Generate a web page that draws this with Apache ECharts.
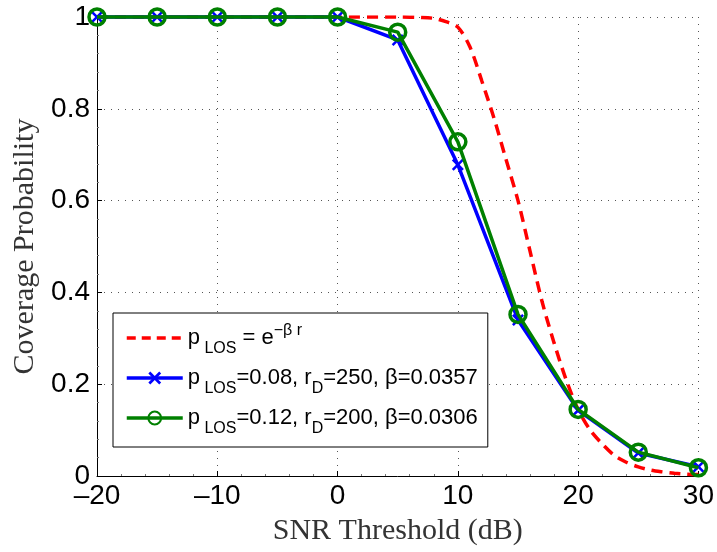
<!DOCTYPE html>
<html>
<head>
<meta charset="utf-8">
<script src="https://cdn.jsdelivr.net/npm/echarts@6/dist/echarts.min.js"></script>
<style>html,body{margin:0;padding:0;background:#fff}#c{width:717px;height:552px}</style>
</head>
<body>
<div id="c"></div>
<script>
// Data
var snr = [-20, -15, -10, -5, 0, 5, 10, 15, 20, 25, 30];
var blueVals = [1, 1, 1, 1, 1, 0.950, 0.678, 0.340, 0.143, 0.050, 0.020];
var greenVals = [1, 1, 1, 1, 1, 0.967, 0.728, 0.352, 0.145, 0.052, 0.018];
var redX = [-20, -10, 0, 5, 7, 8, 9, 10, 11, 12, 13, 14, 15, 16, 17, 18, 19, 20, 21, 22, 23, 24, 25, 26, 27, 28, 29, 30];
var redY = [1, 1, 1, 1, 0.999, 0.997, 0.99, 0.978, 0.935, 0.86, 0.78, 0.69, 0.60, 0.49, 0.38, 0.29, 0.21, 0.145, 0.10, 0.07, 0.045, 0.03, 0.02, 0.013, 0.009, 0.006, 0.004, 0.003];
var xTicks = { min: -20, max: 30, interval: 10 };
var yTicks = { min: 0, max: 1, interval: 0.2 };
var seriesNames = ['red', 'blue', 'green'];

function pairs(xs, ys) { return xs.map(function (x, i) { return [x, ys[i]]; }); }

var xPath = 'path://M1.5,0 L5,3.5 L8.5,0 L10,1.5 L6.5,5 L10,8.5 L8.5,10 L5,6.5 L1.5,10 L0,8.5 L3.5,5 L0,1.5 Z';

var chart = echarts.init(document.getElementById('c'));
var tickFont = 'Liberation Sans, Arial, sans-serif';
var titleFont = 'Liberation Serif, Times New Roman, serif';

var legendText = {
  red: 'p{sub| LOS} = e{sup|\u2212\u03B2 r}',
  blue: 'p{sub| LOS}=0.08, r{sub|D}=250, \u03B2=0.0357',
  green: 'p{sub| LOS}=0.12, r{sub|D}=200, \u03B2=0.0306'
};

chart.setOption({
  animation: false,
  grid: { left: 97, right: 17, top: 17, bottom: 76 },
  xAxis: {
    type: 'value', min: xTicks.min, max: xTicks.max, interval: xTicks.interval,
    name: 'SNR Threshold (dB)', nameLocation: 'middle', nameGap: 40,
    nameTextStyle: { fontFamily: titleFont, fontSize: 30, color: '#333' },
    axisLine: { show: true, onZero: false, lineStyle: { color: '#000', width: 1 } },
    axisTick: { inside: true, length: 5, lineStyle: { color: '#000' } },
    minorTick: { show: true, splitNumber: 5, length: 2, lineStyle: { color: '#777' } },
    axisLabel: { fontFamily: tickFont, fontSize: 28, color: '#000', margin: 6,
      formatter: function (v) { return String(v).replace('-', '\u2013'); } },
    splitLine: { show: true, lineStyle: { color: '#555', type: [1, 6], width: 1 } }
  },
  yAxis: {
    type: 'value', min: yTicks.min, max: yTicks.max, interval: yTicks.interval,
    name: 'Coverage Probability', nameLocation: 'middle', nameGap: 52,
    nameTextStyle: { fontFamily: titleFont, fontSize: 30, color: '#333' },
    axisLine: { show: true, onZero: false, lineStyle: { color: '#000', width: 1 } },
    axisTick: { inside: true, length: 5, lineStyle: { color: '#000' } },
    minorTick: { show: true, splitNumber: 5, length: 2, lineStyle: { color: '#777' } },
    axisLabel: { fontFamily: tickFont, fontSize: 28, color: '#000', margin: 7 },
    splitLine: { show: true, lineStyle: { color: '#555', type: [1, 6], width: 1 } }
  },
  legend: {
    orient: 'vertical', left: 113, top: 313,
    data: [
      { name: seriesNames[0], itemStyle: { opacity: 0 }, lineStyle: { width: 3.5, type: [9, 6] } },
      { name: seriesNames[1], lineStyle: { width: 3.5 } },
      { name: seriesNames[2], lineStyle: { width: 3.5 } }
    ],
    backgroundColor: '#fff', borderColor: '#000', borderWidth: 1, borderRadius: 0,
    padding: [10, 10, 10, 12], itemGap: 10, itemWidth: 56, itemHeight: 16,
    formatter: function (name) { return legendText[name]; },
    textStyle: {
      fontFamily: tickFont, fontSize: 22, color: '#000',
      rich: {
        sub: { fontFamily: tickFont, fontSize: 16, color: '#000', padding: [22, 0, 0, 0] },
        sup: { fontFamily: tickFont, fontSize: 16, color: '#000', padding: [0, 0, 14, 0] }
      }
    }
  },
  series: [
    {
      name: 'red', type: 'line', data: pairs(redX, redY), smooth: 0.3,
      showSymbol: false, symbol: 'none', z: 2,
      lineStyle: { color: '#ff0000', width: 3.5, type: [11, 7] },
      itemStyle: { color: '#ff0000' }
    },
    {
      name: 'blue', type: 'line', data: pairs(snr, blueVals),
      symbol: xPath, symbolSize: 12, z: 3, clip: false,
      lineStyle: { color: '#0000ff', width: 3.5 },
      itemStyle: { color: '#0000ff' }
    },
    {
      name: 'green', type: 'line', data: pairs(snr, greenVals),
      symbol: 'circle', symbolSize: 16, z: 4, clip: false,
      lineStyle: { color: '#008000', width: 3.5 },
      itemStyle: { color: 'rgba(0,0,0,0)', borderColor: '#008000', borderWidth: 3.5 }
    }
  ]
});
</script>
</body>
</html>
